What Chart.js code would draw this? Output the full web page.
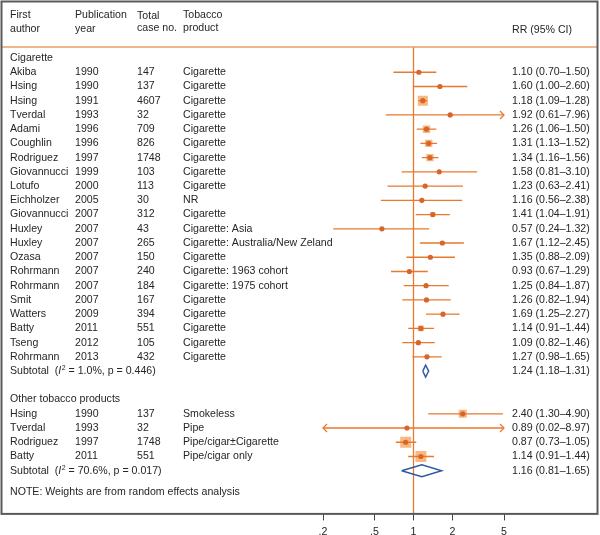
<!DOCTYPE html>
<html>
<head>
<meta charset="utf-8">
<script src="https://cdn.jsdelivr.net/npm/chart.js@4.4.1/dist/chart.umd.min.js"></script>
<style>
  body { margin: 0; background: #fff; }
  canvas { display: block; }
</style>
</head>
<body>
<canvas id="chart1" width="600" height="535"></canvas>
<script>
// ---- data ----
var cigAuthors = ['Akiba', 'Hsing', 'Hsing', 'Tverdal', 'Adami', 'Coughlin', 'Rodriguez', 'Giovannucci', 'Lotufo', 'Eichholzer', 'Giovannucci', 'Huxley', 'Huxley', 'Ozasa', 'Rohrmann', 'Rohrmann', 'Smit', 'Watters', 'Batty', 'Tseng', 'Rohrmann']
var cigYears = [1990, 1990, 1991, 1993, 1996, 1996, 1997, 1999, 2000, 2005, 2007, 2007, 2007, 2007, 2007, 2007, 2007, 2009, 2011, 2012, 2013]
var cigCases = [147, 137, 4607, 32, 709, 826, 1748, 103, 113, 30, 312, 43, 265, 150, 240, 184, 167, 394, 551, 105, 432]
var cigProducts = ['Cigarette', 'Cigarette', 'Cigarette', 'Cigarette', 'Cigarette', 'Cigarette', 'Cigarette', 'Cigarette', 'Cigarette', 'NR', 'Cigarette', 'Cigarette: Asia', 'Cigarette: Australia/New Zeland', 'Cigarette', 'Cigarette: 1963 cohort', 'Cigarette: 1975 cohort', 'Cigarette', 'Cigarette', 'Cigarette', 'Cigarette', 'Cigarette']
var cigRR = [1.10, 1.60, 1.18, 1.92, 1.26, 1.31, 1.34, 1.58, 1.23, 1.16, 1.41, 0.57, 1.67, 1.35, 0.93, 1.25, 1.26, 1.69, 1.14, 1.09, 1.27]
var cigLo = [0.70, 1.00, 1.09, 0.61, 1.06, 1.13, 1.16, 0.81, 0.63, 0.56, 1.04, 0.24, 1.12, 0.88, 0.67, 0.84, 0.82, 1.25, 0.91, 0.82, 0.98]
var cigHi = [1.50, 2.60, 1.28, 7.96, 1.50, 1.52, 1.56, 3.10, 2.41, 2.38, 1.91, 1.32, 2.45, 2.09, 1.29, 1.87, 1.94, 2.27, 1.44, 1.46, 1.65]
var cigWeight = [2, 1.8, 20, 0.3, 11, 11, 11, 1.5, 1.2, 1, 5, 0.8, 3, 2.2, 2.3, 2.2, 2, 3.2, 7, 3.2, 3.2]
var cigSubtotal = [1.24, 1.18, 1.31]
var cigStats = ['1.0%', '0.446']

var othAuthors = ['Hsing', 'Tverdal', 'Rodriguez', 'Batty']
var othYears = [1990, 1993, 1997, 2011]
var othCases = [137, 32, 1748, 551]
var othProducts = ['Smokeless', 'Pipe', 'Pipe/cigar\u00b1Cigarette', 'Pipe/cigar only']
var othRR = [2.40, 0.89, 0.87, 1.14]
var othLo = [1.30, 0.02, 0.73, 0.91]
var othHi = [4.90, 8.97, 1.05, 1.44]
var othWeight = [13, 0.2, 24, 24]
var othSubtotal = [1.16, 0.81, 1.65]
var othStats = ['70.6%', '0.017']

var tickVals = [0.2, 0.5, 1, 2, 5]
var tickLabels = ['.2', '.5', '1', '2', '5']

// ---- layout ----
var X_MIN = 0.2, X_MAX = 5
var CIG_HEAD = 0, CIG_FIRST = 1, CIG_SUB = 22
var OTH_HEAD = 24, OTH_FIRST = 25, OTH_SUB = 29, NOTE_ROW = 30.5

var lineOrange = '#e8792f'
var dotOrange = '#d8652a'
var boxOrange = 'rgba(246, 176, 118, 0.9)'
var blue = '#2d5a9e'
var textColor = '#262626'
var family = '"Liberation Sans", Arial, sans-serif'
var font = '10.6px ' + family

function fmt(v) { return v.toFixed(2) }
function clamp(v) { return Math.min(X_MAX, Math.max(X_MIN, v)) }

// build the study rows
var studies = []
for (var i = 0; i < cigAuthors.length; i++) {
    studies.push({row: CIG_FIRST + i, author: cigAuthors[i], year: cigYears[i], cases: cigCases[i], product: cigProducts[i],
        rr: cigRR[i], lo: cigLo[i], hi: cigHi[i], w: cigWeight[i]})
}
for (var i = 0; i < othAuthors.length; i++) {
    studies.push({row: OTH_FIRST + i, author: othAuthors[i], year: othYears[i], cases: othCases[i], product: othProducts[i],
        rr: othRR[i], lo: othLo[i], hi: othHi[i], w: othWeight[i]})
}

var ciData = [], dotData = [], boxData = [], boxRadius = []
for (var i = 0; i < studies.length; i++) {
    var s = studies[i]
    ciData.push({x: clamp(s.lo), y: s.row})
    ciData.push({x: clamp(s.hi), y: s.row})
    ciData.push({x: 1, y: null})
    dotData.push({x: s.rr, y: s.row})
    boxData.push({x: s.rr, y: s.row})
    boxRadius.push(2.24 * Math.sqrt(s.w) / 1.414)
}

function diamond(sub, row) {
    return [
        {x: sub[1], y: row}, {x: sub[0], y: row - 0.42},
        {x: sub[2], y: row}, {x: sub[0], y: row + 0.42},
        {x: sub[1], y: row}
    ]
}

// text and frame drawn on top using the chart scales
var tablePlugin = {
    id: 'table',
    afterDraw: function(chart) {
        var ctx = chart.ctx
        var xs = chart.scales.x, ys = chart.scales.y
        var W = chart.width
        var top = chart.chartArea.top, bottom = chart.chartArea.bottom
        ctx.save()
        ctx.font = font
        ctx.fillStyle = textColor
        ctx.textBaseline = 'middle'
        ctx.textAlign = 'left'

        // header
        var h1 = 15, h2 = 29
        ctx.fillText('First', 10, h1); ctx.fillText('author', 10, h2)
        ctx.fillText('Publication', 75, h1); ctx.fillText('year', 75, h2)
        ctx.fillText('Total', 137, h1 + 1); ctx.fillText('case no.', 137, h2 - 1)
        ctx.fillText('Tobacco', 183, h1); ctx.fillText('product', 183, h2 - 1)
        ctx.fillText('RR (95% CI)', 512, 30)

        ctx.fillText('Cigarette', 10, ys.getPixelForValue(CIG_HEAD))
        ctx.fillText('Other tobacco products', 10, ys.getPixelForValue(OTH_HEAD))

        for (var i = 0; i < studies.length; i++) {
            var s = studies[i]
            var y = ys.getPixelForValue(s.row)
            ctx.fillText(s.author, 10, y)
            ctx.fillText(String(s.year), 75, y)
            ctx.fillText(String(s.cases), 137, y)
            ctx.fillText(s.product, 183, y)
            ctx.fillText(fmt(s.rr) + ' (' + fmt(s.lo) + '\u2013' + fmt(s.hi) + ')', 512, y)
        }

        function subtotal(row, sub, stats) {
            var y = ys.getPixelForValue(row)
            var x = 10
            ctx.font = font
            var a = 'Subtotal  ('
            ctx.fillText(a, x, y); x += ctx.measureText(a).width
            ctx.font = 'italic ' + font
            ctx.fillText('I', x, y); x += ctx.measureText('I').width + 0.5
            ctx.font = '7px ' + family
            ctx.fillText('2', x, y - 3); x += ctx.measureText('2').width
            ctx.font = font
            ctx.fillText(' = ' + stats[0] + ', p = ' + stats[1] + ')', x, y)
            ctx.fillText(fmt(sub[0]) + ' (' + fmt(sub[1]) + '\u2013' + fmt(sub[2]) + ')', 512, y)
        }
        subtotal(CIG_SUB, cigSubtotal, cigStats)
        subtotal(OTH_SUB, othSubtotal, othStats)
        ctx.fillText('NOTE: Weights are from random effects analysis', 10, ys.getPixelForValue(NOTE_ROW))

        // arrow heads where the CI runs off the axis
        ctx.strokeStyle = lineOrange
        ctx.lineWidth = 1.3
        for (var i = 0; i < studies.length; i++) {
            var s = studies[i]
            var y = ys.getPixelForValue(s.row)
            if (s.hi > X_MAX) {
                var xp = xs.getPixelForValue(X_MAX)
                ctx.beginPath(); ctx.moveTo(xp - 4, y - 4); ctx.lineTo(xp, y); ctx.lineTo(xp - 4, y + 4); ctx.stroke()
            }
            if (s.lo < X_MIN) {
                var xp = xs.getPixelForValue(X_MIN)
                ctx.beginPath(); ctx.moveTo(xp + 4, y - 4); ctx.lineTo(xp, y); ctx.lineTo(xp + 4, y + 4); ctx.stroke()
            }
        }

        // header rule and frame
        ctx.strokeStyle = '#eb9e68'
        ctx.lineWidth = 1.5
        ctx.beginPath(); ctx.moveTo(2, top); ctx.lineTo(W - 3, top); ctx.stroke()
        ctx.strokeStyle = '#5a5a5a'
        ctx.lineWidth = 2
        ctx.strokeRect(1.5, 1.5, W - 4, bottom - 1)
        ctx.restore()
    }
}

// higher "order" is drawn first (underneath)
new Chart(document.getElementById('chart1'), {
    type: 'scatter',
    data: {
        datasets: [{
            label: 'null',
            order: 6,
            data: [{x: 1, y: -5}, {x: 1, y: 40}],
            showLine: true,
            borderColor: lineOrange,
            borderWidth: 1.3,
            pointRadius: 0
        }, {
            label: 'boxes',
            order: 5,
            data: boxData,
            pointStyle: 'rect',
            pointRadius: boxRadius,
            pointBackgroundColor: boxOrange,
            pointBorderWidth: 0,
            pointBorderColor: boxOrange
        }, {
            label: 'ci',
            order: 4,
            data: ciData,
            showLine: true,
            spanGaps: false,
            borderColor: lineOrange,
            borderWidth: 1.3,
            pointRadius: 0
        }, {
            label: 'rr',
            order: 1,
            data: dotData,
            pointRadius: 2.6,
            pointBackgroundColor: dotOrange,
            pointBorderColor: dotOrange,
            pointBorderWidth: 0
        }, {
            label: 'sub1',
            order: 2,
            data: diamond(cigSubtotal, CIG_SUB),
            showLine: true,
            borderColor: blue,
            borderWidth: 1.4,
            pointRadius: 0
        }, {
            label: 'sub2',
            order: 2,
            data: diamond(othSubtotal, OTH_SUB),
            showLine: true,
            borderColor: blue,
            borderWidth: 1.4,
            pointRadius: 0
        }]
    },
    options: {
        responsive: false,
        animation: false,
        devicePixelRatio: 1,
        layout: {padding: {left: 323, right: 96, top: 47, bottom: -8}},
        plugins: {legend: {display: false}, tooltip: {enabled: false}},
        scales: {
            x: {
                type: 'logarithmic',
                min: X_MIN,
                max: X_MAX,
                afterBuildTicks: function(scale) {
                    scale.ticks = tickVals.map(function(v) { return {value: v} })
                },
                grid: {drawOnChartArea: false, drawTicks: true, tickLength: 7, tickColor: '#444', tickWidth: 1},
                border: {display: false},
                ticks: {
                    autoSkip: false,
                    maxRotation: 0,
                    padding: 6,
                    color: textColor,
                    font: {family: family, size: 10.6, lineHeight: 1},
                    callback: function(v, i) { return tickLabels[i] }
                }
            },
            y: {
                type: 'linear',
                reverse: true,
                display: false,
                min: -0.774,
                max: 32.0
            }
        }
    },
    plugins: [tablePlugin]
});
</script>
</body>
</html>
